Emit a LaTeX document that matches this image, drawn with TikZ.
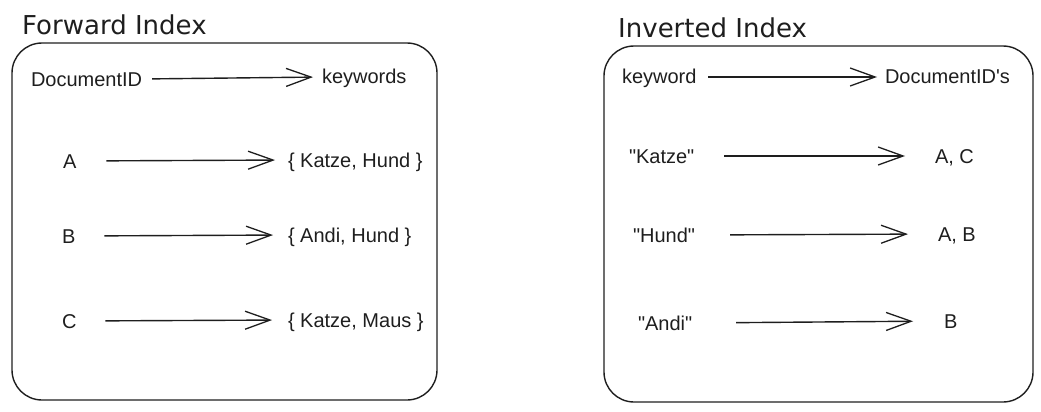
\documentclass[tikz,border=0pt]{standalone}
\usepackage{fontspec}
\setmainfont{Liberation Sans}[Ligatures=TeXOff]
\newfontfamily\titlefont{DejaVu Sans}
\usetikzlibrary{arrows.meta}
\definecolor{ink}{HTML}{1E1E1E}
\begin{document}
\begin{tikzpicture}[x=1pt,y=-1pt,
  lbl/.style={anchor=base west,inner sep=0pt,outer sep=0pt,text height=16pt,text depth=2pt,
    font=\fontsize{20}{22}\selectfont,text=ink},
  ttl/.style={anchor=base west,inner sep=0pt,font=\titlefont\fontsize{26}{28}\selectfont,text=ink},
  frame/.style={draw=ink,line width=1.4pt,rounded corners=30pt},
  arr/.style={draw=ink,line width=1.4pt,-{Straight Barb[length=25pt,width=18pt,line width=1.3pt]}}]
\useasboundingbox (0,0) rectangle (1041,412);
% titles
\node[ttl] (t1) at (22,35) {Forward Index};
\node[ttl] (t2) at (618,38) {Inverted Index};
% frames
\draw[frame] (12,43) rectangle (437,400);
\draw[frame] (604,46) rectangle (1033,402);
% left box
\node[lbl] (docid) at (31,86) {DocumentID};
\node[lbl] (kw) at (322,84) {keywords};
\node[lbl] (A) at (63,168) {A};
\node[lbl] (KH) at (288,167) {\{ Katze, Hund \}};
\node[lbl] (B) at (62,243) {B};
\node[lbl] (AH) at (288,242) {\{ Andi, Hund \}};
\node[lbl] (C) at (62,328) {C};
\node[lbl] (KM) at (288,327) {\{ Katze, Maus \}};
\draw[arr,shorten <=10pt,shorten >=9pt] (docid.east) -- (kw.west);
\draw[arr,shorten <=30pt,shorten >=13pt] (A.east) -- (KH.west);
\draw[arr,shorten <=29pt,shorten >=15pt] (B.east) -- (AH.west);
\draw[arr,shorten <=29pt,shorten >=16pt] (C.east) -- (KM.west);
% right box
\node[lbl] (kwd) at (622,84) {keyword};
\node[lbl] (docs) at (885,84) {DocumentID's};
\node[lbl] (qK) at (629,163) {"Katze"};
\node[lbl] (AC) at (935,163) {A, C};
\node[lbl] (qH) at (633,242) {"Hund"};
\node[lbl] (AB) at (938,241) {A, B};
\node[lbl] (qA) at (638,330) {"Andi"};
\node[lbl] (Bb) at (944,328) {B};
\draw[arr,shorten <=12pt,shorten >=8pt] (kwd.east) -- (docs.west);
\draw[arr,shorten <=30pt,shorten >=30pt] (qK.east) -- (AC.west);
\draw[arr,shorten <=35pt,shorten >=30pt] (qH.east) -- (AB.west);
\draw[arr,shorten <=44pt,shorten >=31pt] (qA.east) -- (Bb.west);
\end{tikzpicture}
\end{document}
